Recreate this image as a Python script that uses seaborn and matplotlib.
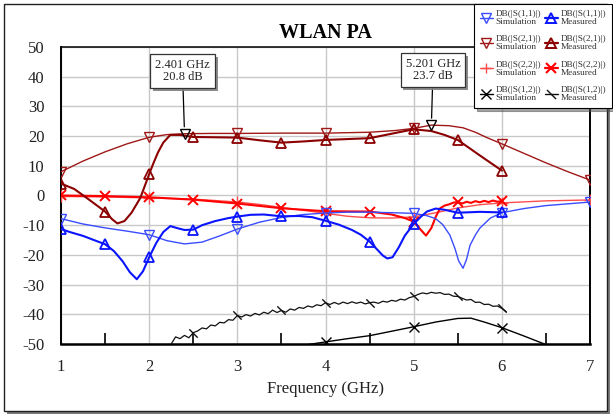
import matplotlib
matplotlib.use("Agg")
import matplotlib.pyplot as plt
import matplotlib.patheffects as pe
from matplotlib.lines import Line2D
from matplotlib.patches import Rectangle
from matplotlib.path import Path
from matplotlib.ticker import MultipleLocator, FixedLocator
import seaborn as sns

# ---------------- data (frequency in GHz, magnitude in dB) ----------------
f11s = [1.0, 1.25, 1.5, 1.75, 2.0, 2.2, 2.4, 2.6, 2.8, 3.0, 3.25, 3.5, 3.75, 4.0, 4.25,
        4.5, 4.75, 5.0, 5.15, 5.25, 5.33, 5.41, 5.47, 5.51, 5.56, 5.6, 5.64, 5.7, 5.75,
        5.87, 6.0, 6.25, 6.5, 6.75, 7.0]
s11s = [-7.8, -9.6, -10.9, -12.0, -13.2, -15.2, -16.3, -15.7, -13.6, -11.3, -9.0, -7.4,
        -6.4, -5.9, -5.6, -5.6, -5.8, -6.0, -6.8, -7.8, -9.8, -13.3, -18.0, -22.0, -24.5,
        -21.5, -16.7, -13.3, -11.0, -7.6, -5.8, -4.4, -3.4, -2.8, -2.2]

f11m = [1.0, 1.1, 1.25, 1.4, 1.5, 1.6, 1.7, 1.78, 1.86, 1.93, 2.0, 2.08, 2.16, 2.24, 2.32,
        2.4, 2.5, 2.6, 2.75, 2.9, 3.0, 3.15, 3.3, 3.5, 3.7, 3.85, 4.0, 4.15, 4.3, 4.4, 4.5,
        4.58, 4.65, 4.7, 4.76, 4.83, 4.9, 5.0, 5.08, 5.15, 5.25, 5.35, 5.5, 5.75, 6.0]
s11m = [-11.3, -12.3, -13.6, -15.3, -16.4, -18.7, -22.2, -25.8, -28.2, -25.5, -20.8, -16.0,
        -12.3, -10.3, -11.0, -11.6, -11.5, -10.0, -8.6, -7.6, -7.1, -6.5, -6.4, -7.0, -6.9,
        -7.3, -8.5, -9.8, -11.6, -13.2, -15.5, -18.0, -20.2, -21.2, -20.8, -17.5, -13.5,
        -9.6, -7.2, -5.4, -4.4, -4.8, -5.8, -5.5, -5.7]

f21s = [1.0, 1.25, 1.5, 1.75, 2.0, 2.2, 2.401, 2.7, 3.0, 3.5, 4.0, 4.5, 4.8, 5.0, 5.201,
        5.4, 5.56, 5.7, 5.83, 6.0, 6.25, 6.5, 6.75, 7.0]
s21s = [8.0, 11.6, 14.7, 17.4, 19.6, 20.5, 20.8, 20.9, 20.9, 21.0, 21.0, 21.3, 21.9, 22.6,
        23.7, 23.5, 22.8, 21.3, 19.5, 17.4, 14.2, 11.0, 8.0, 5.2]

f21m = [1.0, 1.15, 1.3, 1.5, 1.58, 1.64, 1.72, 1.8, 1.9, 2.0, 2.05, 2.1, 2.16, 2.24, 2.35,
        2.5, 2.75, 3.0, 3.25, 3.5, 3.75, 4.0, 4.25, 4.5, 4.75, 5.0, 5.2, 5.35, 5.5, 5.75, 6.0]
s21m = [4.0, 2.2, -1.0, -5.4, -8.0, -9.4, -8.6, -5.8, -0.8, 7.2, 11.0, 14.5, 17.8, 20.4,
        20.4, 19.7, 19.6, 19.5, 18.6, 17.8, 18.2, 18.7, 19.0, 19.3, 20.8, 22.3, 21.7, 20.4,
        18.7, 13.5, 8.4]

f22s = [1.0, 1.5, 2.0, 2.5, 3.0, 3.25, 3.5, 3.75, 4.0, 4.25, 4.5, 4.75, 5.0, 5.25, 5.5,
        5.75, 6.0, 6.5, 7.0]
s22s = [-0.3, -0.5, -0.8, -1.2, -2.2, -3.0, -4.0, -5.0, -6.0, -7.0, -7.5, -7.6, -7.2, -5.8,
        -4.2, -3.1, -2.5, -1.8, -1.5]

f22m = [1.0, 1.5, 2.0, 2.5, 3.0, 3.5, 4.0, 4.5, 4.75, 4.9, 5.0, 5.07, 5.14, 5.2, 5.25, 5.3,
        5.35, 5.4, 5.45, 5.5, 5.55, 5.6, 5.65, 5.7, 5.75, 5.8, 5.85, 5.9, 5.95, 6.0]
s22m = [0.0, -0.2, -0.6, -1.4, -2.7, -4.3, -5.3, -5.4, -6.4, -7.6, -8.8, -11.2, -13.5, -11.0,
        -7.2, -4.3, -3.4, -3.0, -2.4, -2.2, -2.7, -2.1, -2.5, -1.9, -2.3, -1.8, -2.2, -1.7,
        -2.1, -1.9]

f12s = [3.8, 4.0, 4.25, 4.5, 4.75, 5.0, 5.25, 5.5, 5.65, 5.8, 6.0, 6.25, 6.5]
s12s = [-50.2, -49.3, -48.2, -47.2, -45.7, -44.2, -42.6, -41.4, -41.3, -42.6, -44.5, -47.3,
        -50.2]

f12m = [2.25, 2.30, 2.35, 2.40, 2.45, 2.50, 2.55, 2.60, 2.65, 2.70, 2.75, 2.80, 2.85, 2.90,
        2.95, 3.00, 3.05, 3.10, 3.15, 3.20, 3.25, 3.30, 3.35, 3.40, 3.45, 3.50, 3.55, 3.60,
        3.65, 3.70, 3.75, 3.80, 3.85, 3.90, 3.95, 4.00, 4.05, 4.10, 4.15, 4.20, 4.25, 4.30,
        4.35, 4.40, 4.45, 4.50, 4.55, 4.60, 4.65, 4.70, 4.75, 4.80, 4.85, 4.90, 4.95, 5.00,
        5.05, 5.10, 5.15, 5.20, 5.25, 5.30, 5.35, 5.40, 5.45, 5.50, 5.55, 5.60, 5.65, 5.70,
        5.75, 5.80, 5.85, 5.90, 5.95, 6.00, 6.05]
s12m = [-50.0, -47.6, -48.2, -47.1, -47.9, -46.2, -45.6, -44.6, -44.9, -43.6, -43.9, -42.7,
        -42.9, -41.8, -42.0, -40.4, -40.9, -40.1, -40.6, -39.7, -40.2, -39.3, -39.8, -38.6,
        -39.4, -38.7, -39.3, -38.2, -38.6, -37.7, -38.0, -37.2, -37.6, -36.8, -37.1, -36.1,
        -36.7, -36.0, -36.6, -35.9, -36.4, -35.8, -36.3, -35.9, -36.5, -36.1, -35.9, -36.3,
        -35.6, -35.9, -35.3, -35.6, -34.9, -35.2, -34.4, -34.0, -33.3, -32.8, -33.1, -32.6,
        -32.9, -32.7, -33.3, -33.2, -33.9, -34.0, -34.6, -35.2, -35.0, -36.0, -35.9, -36.7,
        -36.6, -37.3, -37.2, -38.0, -39.1]

sim_marks = [1.0, 2.0, 3.0, 4.0, 5.0, 6.0, 7.0]
meas_marks = [1.0, 1.5, 2.0, 2.5, 3.0, 3.5, 4.0, 4.5, 5.0, 5.5, 6.0]

marker_freq = [2.401, 5.201]
marker_db = [20.8, 23.7]

legend_names = ["DB(|S(1,1)|)", "DB(|S(2,1)|)", "DB(|S(2,2)|)", "DB(|S(1,2)|)"]
x_ticks = [1, 2, 3, 4, 5, 6, 7]
y_ticks = [-50, -40, -30, -20, -10, 0, 10, 20, 30, 40, 50]

# ---------------- styling ----------------
sns.set_theme(style="white")
plt.rcParams["font.family"] = ["Liberation Serif", "DejaVu Serif"]
plt.rcParams["axes.unicode_minus"] = False

W, H = 613, 416
fig = plt.figure(figsize=(W / 100, H / 100), dpi=100)
fig.patch.set_facecolor("white")


def fx(px):
    return px / W


def fy(py):
    return 1 - py / H


# outer frame with a drop shadow
fig.patches.append(Rectangle((fx(7), fy(414)), fx(607) - fx(4), fy(4) - fy(411),
                             transform=fig.transFigure, facecolor="#7a7a7a",
                             edgecolor="none", zorder=-2))
fig.patches.append(Rectangle((fx(4), fy(411)), fx(607) - fx(4), fy(4) - fy(411),
                             transform=fig.transFigure, facecolor="white",
                             edgecolor="#202020", linewidth=1.0, zorder=-1))

ax = fig.add_axes([fx(61), fy(344), fx(590) - fx(61), fy(47) - fy(344)])
ax.set_facecolor("white")

slash = Path([(-1, 1), (1, -1)], [Path.MOVETO, Path.LINETO])


def marks_at(freqs, targets):
    return [i for i, f in enumerate(freqs) if any(abs(f - t) < 1e-6 for t in targets)]


def trace(f, v, color, lw, marker, marks, ms=7, mew=1.0, z=3):
    sns.lineplot(x=f, y=v, ax=ax, color=color, linewidth=lw, marker=marker,
                 markevery=marks_at(f, marks), markersize=ms,
                 markerfacecolor="none", markeredgecolor=color, markeredgewidth=mew,
                 estimator=None, sort=False, legend=False, zorder=z)


C11S, C11M = "#3a4cff", "#0a14ff"
C21S, C21M = "#a01818", "#8b0000"
C22S, C22M = "#ff4d4d", "#ff0000"
C12S, C12M = "#000000", "#101010"

trace(f12s, s12s, C12S, 1.0, "x", sim_marks, ms=7)
trace(f12m, s12m, C12M, 0.9, slash, meas_marks, ms=6)
trace(f22s, s22s, C22S, 1.0, "+", sim_marks, ms=8)
trace(f22m, s22m, C22M, 1.5, "x", meas_marks, ms=7, mew=1.4)
trace(f11s, s11s, C11S, 1.0, "v", sim_marks, ms=7)
trace(f11m, s11m, C11M, 1.5, "^", meas_marks, ms=7, mew=1.3)
trace(f21s, s21s, C21S, 1.0, "v", sim_marks, ms=7)
trace(f21m, s21m, C21M, 1.5, "^", meas_marks, ms=7, mew=1.3)

# marker points on the simulated gain
sns.lineplot(x=marker_freq, y=marker_db, ax=ax, linestyle="none", marker="v",
             markersize=7, markerfacecolor="none", markeredgecolor="black",
             markeredgewidth=1.0, color="black", estimator=None, sort=False,
             legend=False, zorder=6)

box_pos = [(182.5, H - 71), (433.0, H - 70)]
for (mf, md), (bx, by) in zip(zip(marker_freq, marker_db), box_pos):
    ann = ax.annotate(f"{mf:.3f} GHz\n{md:.1f} dB", xy=(mf, md), xycoords="data",
                      xytext=(bx, by), textcoords="figure pixels",
                      ha="center", va="center", fontsize=9, color="#222222",
                      linespacing=1.0,
                      bbox=dict(boxstyle="square,pad=0.4", fc="white", ec="#333333", lw=0.9),
                      arrowprops=dict(arrowstyle="-", color="black", lw=0.9,
                                      shrinkA=0, shrinkB=5),
                      zorder=7, annotation_clip=False)
    ann.get_bbox_patch().set_path_effects(
        [pe.SimplePatchShadow(offset=(2, -2), shadow_rgbFace="#808080", alpha=0.9),
         pe.Normal()])

# axes, grid and ticks
ax.set_xlim(1, 7)
ax.set_ylim(-50, 50)
ax.xaxis.set_major_locator(FixedLocator(x_ticks))
ax.yaxis.set_major_locator(FixedLocator(y_ticks))
ax.xaxis.set_minor_locator(MultipleLocator(0.5))
ax.grid(True, which="major", color="#c8c8c8", linewidth=1.0)
ax.set_axisbelow(True)
ax.tick_params(axis="x", which="major", length=0, pad=11, labelsize=12, colors="#222222")
ax.tick_params(axis="y", which="major", length=0, pad=12, labelsize=12, colors="#222222")
ax.tick_params(axis="x", which="minor", direction="in", length=8, width=1.2,
               color="black", bottom=True)
ax.tick_params(axis="y", which="minor", length=0)
for side, w in (("left", 1.4), ("bottom", 1.8), ("top", 1.1), ("right", 1.4)):
    ax.spines[side].set_visible(True)
    ax.spines[side].set_color("black")
    ax.spines[side].set_linewidth(w)

ax.set_xlabel("Frequency (GHz)", fontsize=12, color="#222222")
ax.xaxis.set_label_coords(0.5, -(389 - 344) / 297)
ax.xaxis.label.set_va("center")
ax.set_ylabel("")

fig.text(fx(325.5), fy(33), "WLAN PA", ha="center", va="center",
         fontsize=14.5, fontweight="bold", color="black")

# legend: simulated traces in the first column, measured in the second
entries = [
    (C11S, 1.0, "v", 1.0), (C21S, 1.0, "v", 1.0), (C22S, 1.0, "+", 1.0), (C12S, 1.0, "x", 1.0),
    (C11M, 1.6, "^", 1.4), (C21M, 1.6, "^", 1.4), (C22M, 1.6, "x", 1.5), (C12M, 1.0, slash, 1.0),
]
handles = [Line2D([], [], color=c, lw=lw, marker=m, markersize=6.5, markerfacecolor="none",
                  markeredgecolor=c, markeredgewidth=mew) for c, lw, m, mew in entries]
labels = [f"{n}\nSimulation" for n in legend_names] + [f"{n}\nMeasured" for n in legend_names]
leg = fig.legend(handles, labels, loc="upper left", bbox_to_anchor=(fx(474), fy(4)),
                 ncol=2, fontsize=6.7, frameon=True, fancybox=False, shadow=True,
                 borderaxespad=0, handlelength=1.35, handletextpad=0.3, columnspacing=0.45,
                 labelspacing=1.0, borderpad=0.65, edgecolor="black")
leg.get_frame().set_linewidth(0.8)
for t in leg.get_texts():
    t.set_linespacing(1.0)
    t.set_color("#333333")

fig.savefig("out.png", dpi=100)
